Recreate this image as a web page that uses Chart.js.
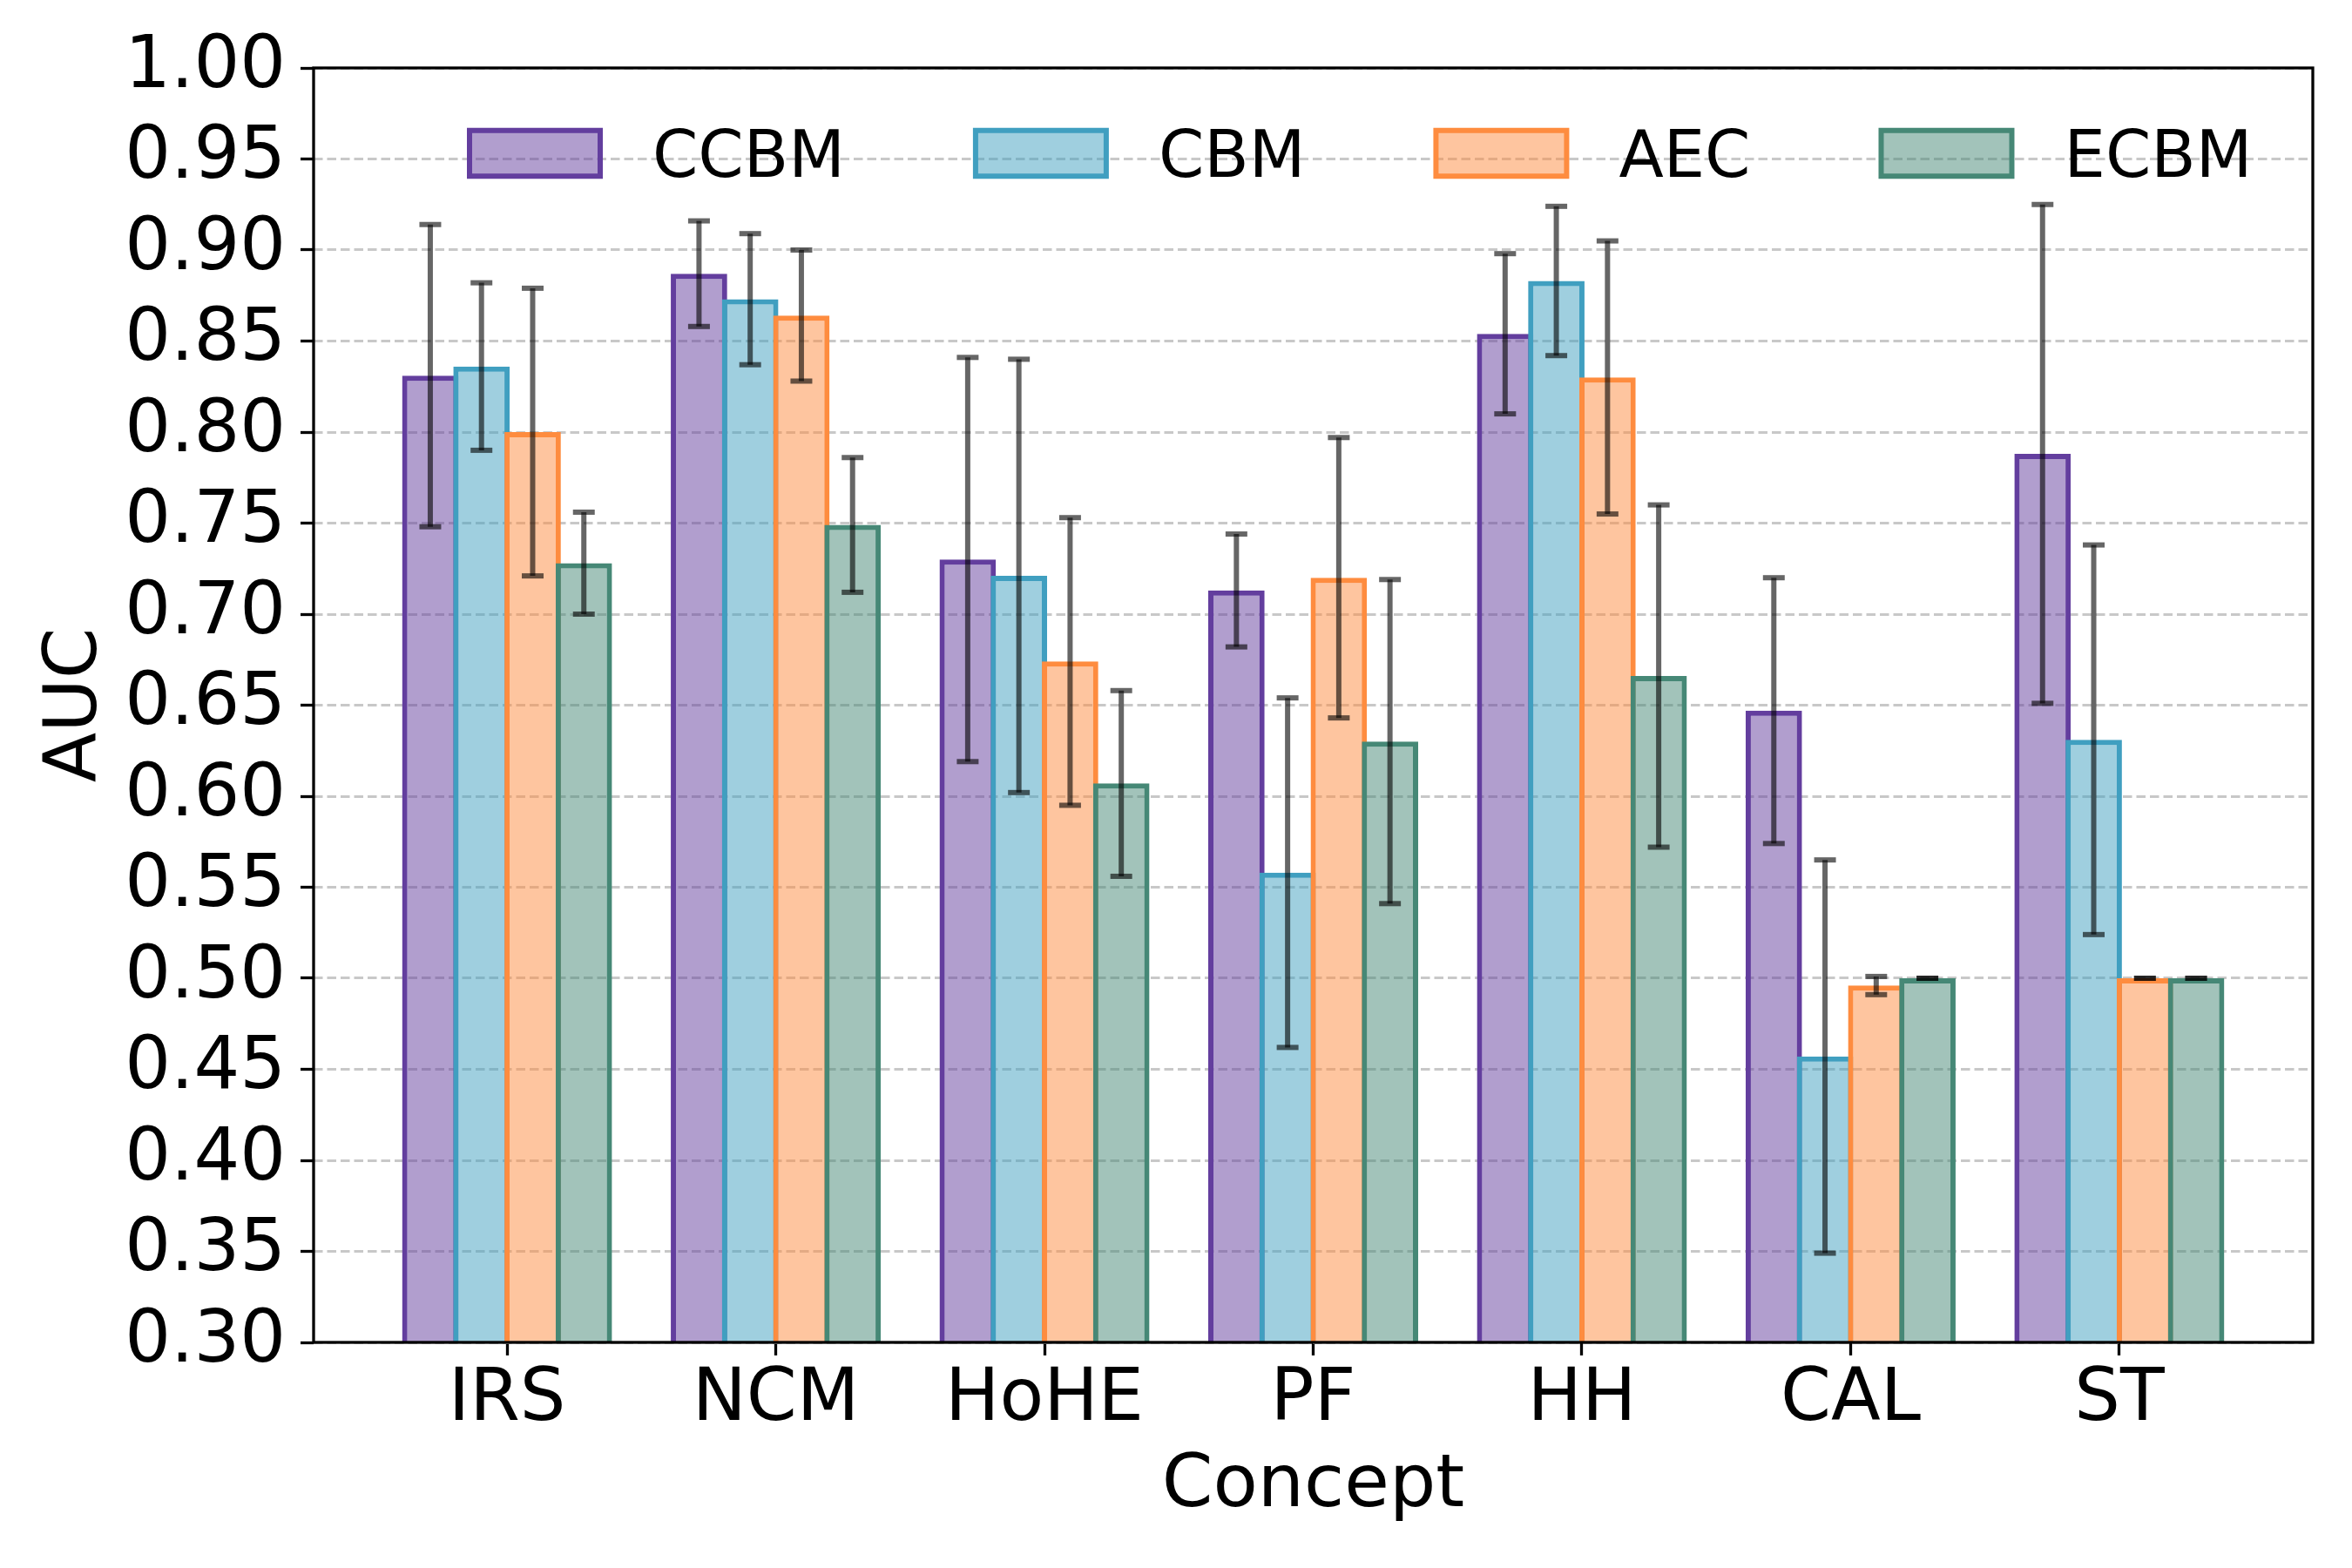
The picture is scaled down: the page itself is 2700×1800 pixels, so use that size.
<!DOCTYPE html>
<html>
<head>
<meta charset="utf-8">
<script src="https://cdn.jsdelivr.net/npm/chart.js@4.4.0/dist/chart.umd.min.js"></script>
<style>
  html, body { margin: 0; padding: 0; background: #fff; }
  #wrap { width: 2700px; height: 1800px; }
</style>
</head>
<body>
<div id="wrap"><canvas id="myChart" width="2700" height="1800"></canvas></div>
<script>
// Categories and axis ticks
const concepts = ['IRS', 'NCM', 'HoHE', 'PF', 'HH', 'CAL', 'ST'];
const yTicks = [0.30, 0.35, 0.40, 0.45, 0.50, 0.55, 0.60, 0.65, 0.70, 0.75, 0.80, 0.85, 0.90, 0.95, 1.00];

// Mean AUC and std per model
const ccbmMean = [0.831, 0.887, 0.730, 0.713, 0.854, 0.647, 0.788];
const ccbmStd  = [0.083, 0.029, 0.111, 0.031, 0.044, 0.073, 0.137];
const cbmMean  = [0.836, 0.873, 0.721, 0.558, 0.883, 0.457, 0.631];
const cbmStd   = [0.046, 0.036, 0.119, 0.096, 0.041, 0.108, 0.107];
const aecMean  = [0.800, 0.864, 0.674, 0.720, 0.830, 0.496, 0.500];
const aecStd   = [0.079, 0.036, 0.079, 0.077, 0.075, 0.005, 0.000];
const ecbmMean = [0.728, 0.749, 0.607, 0.630, 0.666, 0.500, 0.500];
const ecbmStd  = [0.028, 0.037, 0.051, 0.089, 0.094, 0.000, 0.000];

const seriesNames = ['CCBM', 'CBM', 'AEC', 'ECBM'];
const seriesMean = [ccbmMean, cbmMean, aecMean, ecbmMean];
const seriesStd = [ccbmStd, cbmStd, aecStd, ecbmStd];

// styles
const edgeColors = ['rgb(99,62,158)', 'rgb(64,159,192)', 'rgb(254,140,63)', 'rgb(70,136,118)'];
const fillColors = ['rgba(99,62,158,0.5)', 'rgba(64,159,192,0.5)', 'rgba(254,140,63,0.5)', 'rgba(70,136,118,0.5)'];

Chart.defaults.font.family = "'DejaVu Sans'";
Chart.defaults.color = '#000';

// bars drawn left to right so each bar's edge covers the previous one (like matplotlib),
// then error bars, legend and the axes box on top
const figurePlugin = {
  id: 'figure',
  beforeDatasetsDraw(chart) {
    const ctx = chart.ctx;
    const a = chart.chartArea;
    ctx.save();
    ctx.beginPath();
    ctx.rect(a.left, a.top, a.right - a.left, a.bottom - a.top);
    ctx.clip();
    chart.data.datasets.forEach((ds, i) => {
      chart.getDatasetMeta(i).controller.draw();
    });
    ctx.restore();
    return false;
  },
  afterDraw(chart) {
    const ctx = chart.ctx;
    const a = chart.chartArea;
    const yScale = chart.scales.y;

    // error bars
    ctx.save();
    ctx.strokeStyle = 'rgba(0,0,0,0.6)';
    ctx.lineWidth = 6;
    ctx.lineCap = 'butt';
    seriesNames.forEach((name, s) => {
      const meta = chart.getDatasetMeta(s);
      meta.data.forEach((bar, j) => {
        const top = yScale.getPixelForValue(seriesMean[s][j] + seriesStd[s][j]);
        const bot = yScale.getPixelForValue(seriesMean[s][j] - seriesStd[s][j]);
        if (bot - top > 0.5) {
          ctx.beginPath();
          ctx.moveTo(bar.x, top);
          ctx.lineTo(bar.x, bot);
          ctx.stroke();
        }
        [top, bot].forEach(py => {
          ctx.beginPath();
          ctx.moveTo(bar.x - 12.5, py);
          ctx.lineTo(bar.x + 12.5, py);
          ctx.stroke();
        });
      });
    });
    ctx.restore();

    // legend (no frame)
    ctx.save();
    ctx.font = "75px 'DejaVu Sans'";
    ctx.textBaseline = 'alphabetic';
    ctx.textAlign = 'left';
    let x = 539;
    const cy = 176;
    seriesNames.forEach((name, s) => {
      ctx.fillStyle = fillColors[s];
      ctx.fillRect(x, cy - 26.25, 150, 52.5);
      ctx.strokeStyle = edgeColors[s];
      ctx.lineWidth = 6;
      ctx.strokeRect(x, cy - 26.25, 150, 52.5);
      ctx.fillStyle = '#000';
      ctx.fillText(name, x + 150 + 60, 203);
      x += 150 + 60 + ctx.measureText(name).width + 150;
    });
    ctx.restore();

    // axes box
    ctx.save();
    ctx.strokeStyle = '#000';
    ctx.lineWidth = 3.3;
    ctx.strokeRect(a.left, a.top, a.right - a.left, a.bottom - a.top);
    ctx.restore();
  }
};

const ctx = document.getElementById('myChart').getContext('2d');

const myChart = new Chart(ctx, {
  type: 'bar',
  data: {
    datasets: seriesNames.map((name, s) => ({
      label: name,
      data: seriesMean[s].map((m, i) => ({ x: i, y: m })),
      backgroundColor: fillColors[s],
      borderColor: edgeColors[s],
      borderWidth: 6,
      borderSkipped: 'start',
      inflateAmount: 0,
      categoryPercentage: 0.762,
      barPercentage: 1.102
    }))
  },
  options: {
    responsive: false,
    animation: false,
    devicePixelRatio: 1,
    layout: { padding: { top: 78, right: 45, left: 0, bottom: 0 } },
    plugins: {
      legend: { display: false },
      tooltip: { enabled: false }
    },
    scales: {
      x: {
        type: 'linear',
        offset: false,
        min: -0.72,
        max: 6.72,
        afterBuildTicks: s => { s.ticks = concepts.map((c, i) => ({ value: i })); },
        afterFit: s => { s.height = 1800 - 1541; },
        ticks: {
          callback: v => concepts[v],
          font: { size: 83 },
          color: '#000',
          padding: 3,
          autoSkip: false,
          maxRotation: 0
        },
        grid: {
          drawOnChartArea: false,
          drawTicks: true,
          tickLength: 15,
          tickWidth: 3.3,
          tickColor: '#000',
          offset: false
        },
        border: { display: false },
        title: {
          display: true,
          text: 'Concept',
          font: { size: 84 },
          color: '#000',
          padding: { top: 0, bottom: 42 }
        }
      },
      y: {
        min: 0.3,
        max: 1.0,
        afterBuildTicks: s => { s.ticks = yTicks.map(v => ({ value: v })); },
        afterFit: s => { s.width = 360; },
        ticks: {
          callback: v => v.toFixed(2),
          font: { size: 83 },
          color: '#000',
          padding: 17
        },
        grid: {
          color: '#c8c8c8',
          lineWidth: 3,
          tickLength: 15,
          tickWidth: 3.3,
          tickColor: '#000',
          tickBorderDash: []
        },
        border: { display: false, dash: [10.5, 5] },
        title: {
          display: true,
          text: 'AUC',
          font: { size: 84 },
          color: '#000',
          padding: { top: 38, bottom: 0 }
        }
      }
    }
  },
  plugins: [figurePlugin]
});
</script>
</body>
</html>
